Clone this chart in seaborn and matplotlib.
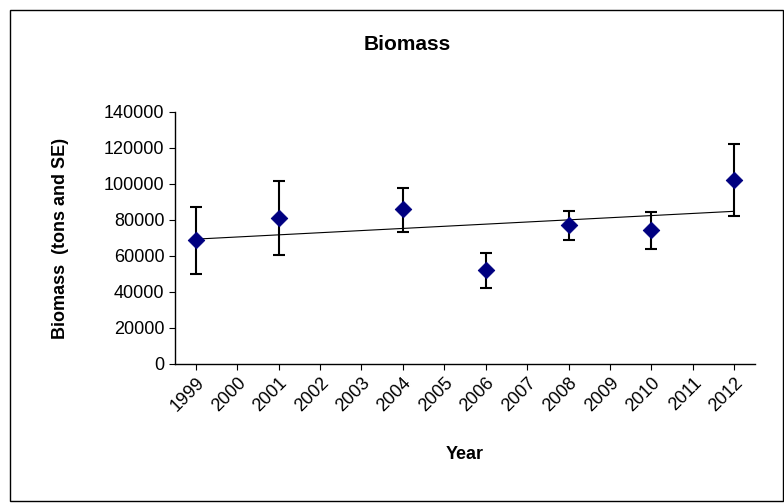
import numpy as np
import matplotlib.pyplot as plt
import seaborn as sns
import matplotlib.transforms as mtransforms
from matplotlib.patches import Rectangle

years = [1999, 2001, 2004, 2006, 2008, 2010, 2012]
biomass = [69000, 81000, 86000, 52000, 77000, 74500, 102000]
lower = [50000, 60500, 73500, 42000, 69000, 64000, 82000]
upper = [87000, 101500, 98000, 61500, 85000, 84500, 122500]
tick_years = list(range(1999, 2013))

sns.set_style("white")
plt.rcParams["font.family"] = ["Liberation Sans", "DejaVu Sans"]
plt.rcParams["text.color"] = "black"
plt.rcParams["axes.labelcolor"] = "black"
plt.rcParams["xtick.color"] = "black"
plt.rcParams["ytick.color"] = "black"

fig = plt.figure(figsize=(7.84, 5.04), dpi=100)
ax = fig.add_axes([175 / 784, 1 - 364 / 504, 580 / 784, 252 / 504])

b = np.array(biomass)
yerr = [b - np.array(lower), np.array(upper) - b]
ax.errorbar(years, biomass, yerr=yerr, fmt="none", ecolor="black",
            elinewidth=1.5, capsize=4, capthick=1.5, zorder=2)
sns.scatterplot(x=years, y=biomass, marker="D", s=70, color="#000080",
                edgecolor="#000080", ax=ax, zorder=3)

k, c = np.polyfit(years, biomass, 1)
xs = np.array([years[0], years[-1]])
ax.plot(xs, k * xs + c, color="black", lw=0.8, zorder=1)

ax.set_xlim(1998.5, 2012.5)
ax.set_ylim(0, 140000)
ax.set_yticks(range(0, 140001, 20000))
ax.set_xticks(tick_years)
ax.set_xticklabels([str(y) for y in tick_years], rotation=45, ha="right",
                   rotation_mode="anchor", fontsize=13)
shift = mtransforms.ScaledTranslation(-6 / 100, 0, fig.dpi_scale_trans)
for lab in ax.get_xticklabels():
    lab.set_transform(lab.get_transform() + shift)
ax.tick_params(axis="y", labelsize=13, length=4, direction="out", left=True)
ax.tick_params(axis="x", length=4, direction="out", bottom=True)
for s in ["top", "right"]:
    ax.spines[s].set_visible(False)
for s in ["left", "bottom"]:
    ax.spines[s].set_color("black")
    ax.spines[s].set_linewidth(1)

ax.set_xlabel("Year", fontsize=13, fontweight="bold", labelpad=22)
ax.set_ylabel("Biomass  (tons and SE)", fontsize=13, fontweight="bold", labelpad=25)
fig.text(407 / 784, 1 - 45 / 504, "Biomass", ha="center", va="center",
         fontsize=15, fontweight="bold")
fig.patches.append(Rectangle((10 / 784, 0.005), 773 / 784, 1 - 10 / 504 - 0.005,
                             transform=fig.transFigure, fill=False,
                             edgecolor="black", lw=1))
fig.savefig("out.png", dpi=100)
